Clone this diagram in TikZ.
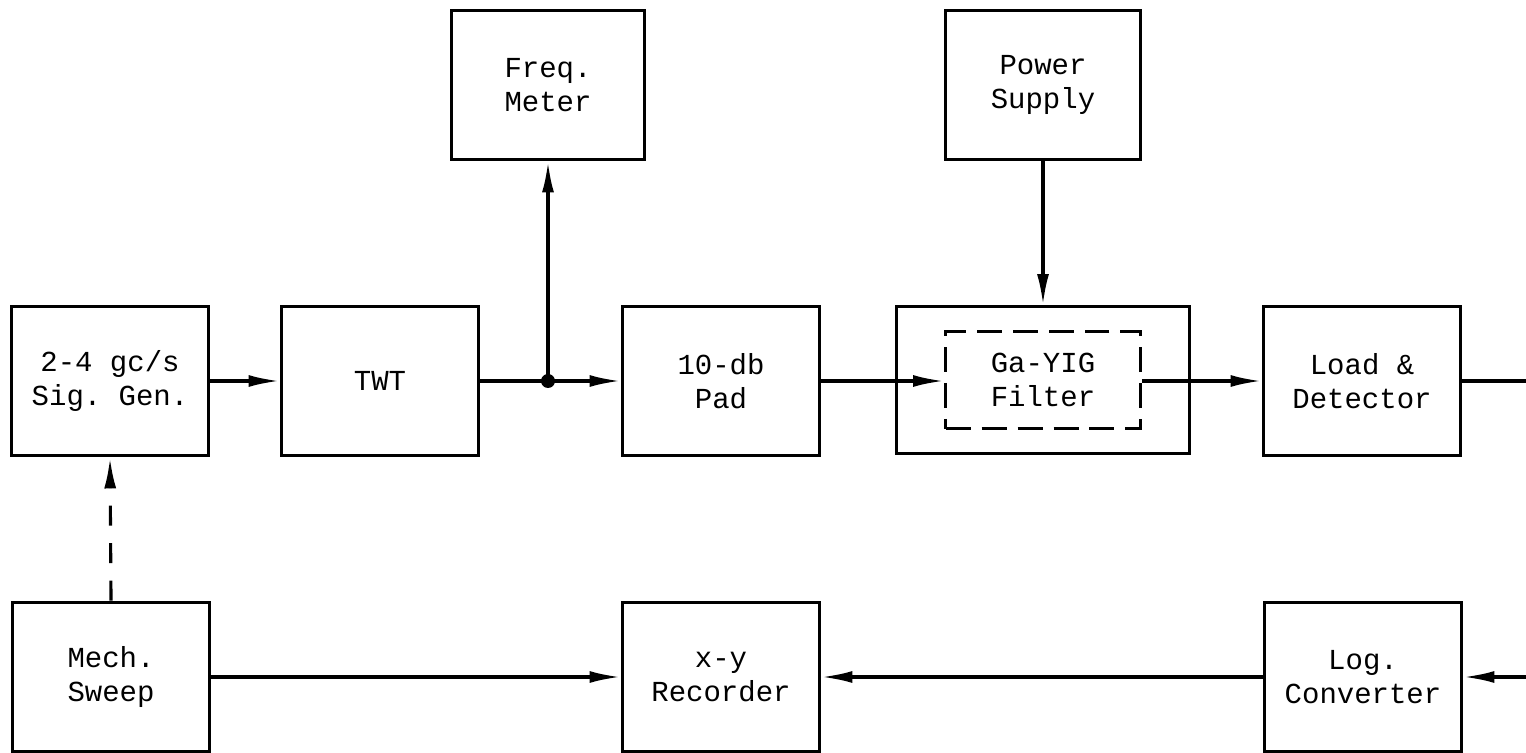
\documentclass[tikz,border=0pt]{standalone}
\usepackage{fontspec}
\setmonofont{Liberation Mono}
\usetikzlibrary{arrows.meta, positioning}

\begin{document}
\begin{tikzpicture}[
    x=0.02cm, y=-0.02cm,
    blk/.style={draw, line width=1.7pt, minimum width=3.96cm,
                minimum height=3.0cm, align=center,
                font=\fontsize{16.5}{19}\selectfont\ttfamily},
    sig/.style={draw, line width=1.8pt,
                -{Latex[length=0.62cm, width=0.24cm]}},
    wire/.style={draw, line width=1.8pt},
    >=Latex
  ]
  \useasboundingbox (0,0) rectangle (1526,753);

  % top row
  \node[blk, minimum width=3.88cm] (freq) at (548,85) {Freq.\\Meter};
  \node[blk, minimum width=3.9cm] (power) at (1043,85) {Power\\Supply};

  % main row
  \node[blk] (gen) at (110,381) {2-4 gc/s\\Sig. Gen.};
  \node[blk] (twt) at (380,381) {TWT};
  \node[blk] (pad) at (721,381) {10-db\\Pad};
  \node[draw, line width=1.7pt, minimum width=5.88cm,
        minimum height=2.94cm] (filter) at (1043,380) {};
  \node[blk, dash pattern=on 0.5cm off 0.22cm, minimum width=3.9cm,
        minimum height=1.96cm] (yig) at (1043,380) {Ga-YIG\\Filter};
  \node[blk] (load) at (1362,381) {Load \&\\Detector};

  % bottom row
  \node[blk] (sweep) at (111,677) {Mech.\\Sweep};
  \node[blk] (rec) at (721,677) {x-y\\Recorder};
  \node[blk] (logc) at (1363,677) {Log.\\Converter};

  \coordinate (tap) at (548,381);
  \coordinate (outR) at (1526,381);
  \coordinate (inR) at (1526,677);

  \path[sig] (gen) -- (twt);
  \path[wire] (twt.east) -- (tap);
  \fill (tap) circle (0.14cm);
  \path[sig] (tap) -- (pad.west |- tap);
  \path[sig] (tap) -- (freq.south);
  \path[sig] (pad.east) -- (yig.west |- pad.east);
  \path[sig] (power.south) -- (filter.north);
  \path[sig] (yig.east |- load.west) -- (load.west);
  \path[wire] (load.east) -- (outR);

  \path[sig] (inR) -- (logc.east |- inR);
  \path[sig] (logc.west) -- (rec.east);
  \path[sig] (sweep.east) -- (rec.west);
  \path[sig, dash pattern=on 0.4cm off 0.35cm] (sweep.north) -- (gen.south);
\end{tikzpicture}
\end{document}
